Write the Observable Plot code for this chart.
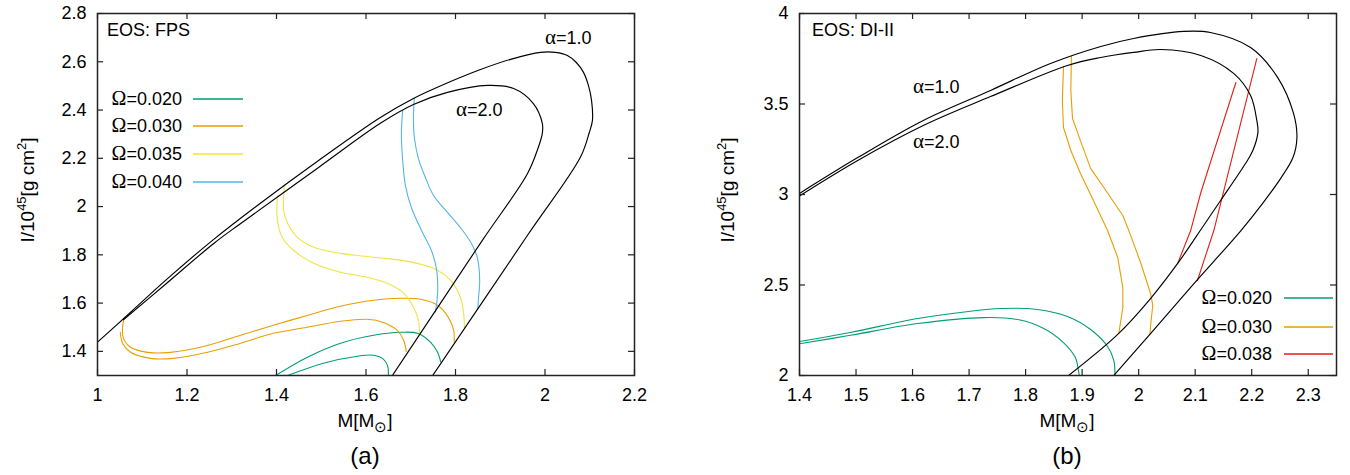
<!DOCTYPE html>
<html>
<head>
<meta charset="utf-8">
<script src="https://cdn.jsdelivr.net/npm/d3@7"></script>
<script src="https://cdn.jsdelivr.net/npm/@observablehq/plot@0.6"></script>
<style>
  body { margin: 0; background: #fff; }
  #wrap { position: relative; width: 1350px; height: 475px; overflow: hidden; }
  #wrap svg { position: absolute; top: 0; }
</style>
</head>
<body>
<div id="wrap"></div>
<script>
// ---------------- Panel (a): EOS FPS  -- [M (Msun), I (1e45 g cm^2)] ----------------
const fpsAlpha1 = [[1.000,1.438],[1.074,1.562],[1.152,1.694],[1.259,1.863],[1.364,2.014],[1.494,2.191],[1.632,2.369],[1.706,2.448],[1.789,2.518],[1.856,2.568],[1.923,2.610],[1.990,2.639],[2.023,2.639],[2.050,2.626],[2.070,2.597],[2.086,2.556],[2.097,2.502],[2.104,2.440],[2.106,2.357],[2.099,2.307],[2.079,2.204],[1.961,1.881],[1.749,1.300]];
const fpsAlpha2 = [[1.058,1.531],[1.152,1.678],[1.259,1.846],[1.320,1.930],[1.494,2.162],[1.632,2.345],[1.706,2.423],[1.782,2.473],[1.872,2.502],[1.930,2.489],[1.974,2.427],[1.994,2.345],[1.994,2.303],[1.985,2.245],[1.961,2.137],[1.860,1.860],[1.659,1.300]];
const fpsOm020a = [[1.398,1.300],[1.469,1.376],[1.543,1.434],[1.617,1.467],[1.677,1.479],[1.715,1.475],[1.744,1.438],[1.760,1.396],[1.767,1.356]];
const fpsOm020b = [[1.425,1.300],[1.505,1.351],[1.581,1.380],[1.617,1.384],[1.637,1.371],[1.648,1.342],[1.650,1.300]];
const fpsOm030a = [[1.060,1.541],[1.056,1.500],[1.058,1.454],[1.074,1.417],[1.112,1.396],[1.163,1.396],[1.230,1.417],[1.320,1.467],[1.393,1.508],[1.469,1.549],[1.543,1.587],[1.617,1.612],[1.677,1.620],[1.722,1.616],[1.760,1.591],[1.784,1.541],[1.796,1.487],[1.797,1.438]];
const fpsOm030b = [[1.051,1.479],[1.056,1.434],[1.074,1.396],[1.118,1.371],[1.170,1.371],[1.246,1.396],[1.320,1.434],[1.393,1.475],[1.469,1.500],[1.543,1.525],[1.603,1.533],[1.639,1.520],[1.670,1.487],[1.684,1.446],[1.690,1.400]];
const fpsOm035a = [[1.402,2.046],[1.402,1.943],[1.413,1.872],[1.438,1.819],[1.483,1.765],[1.543,1.728],[1.603,1.707],[1.648,1.682],[1.684,1.641],[1.706,1.583],[1.717,1.529],[1.720,1.471]];
const fpsOm035b = [[1.418,2.092],[1.416,1.984],[1.425,1.930],[1.447,1.872],[1.483,1.831],[1.543,1.806],[1.617,1.790],[1.693,1.773],[1.751,1.744],[1.789,1.694],[1.811,1.624],[1.818,1.558],[1.820,1.500]];
const fpsOm040a = [[1.682,2.398],[1.679,2.303],[1.682,2.191],[1.688,2.088],[1.702,1.993],[1.724,1.901],[1.746,1.819],[1.758,1.736],[1.760,1.641],[1.755,1.562]];
const fpsOm040b = [[1.708,2.450],[1.706,2.369],[1.708,2.287],[1.717,2.200],[1.731,2.129],[1.751,2.046],[1.782,1.976],[1.816,1.901],[1.838,1.839],[1.849,1.786],[1.854,1.694],[1.851,1.612],[1.850,1.578]];
const fpsXTicks = [1, 1.2, 1.4, 1.6, 1.8, 2, 2.2];
const fpsYTicks = [1.4, 1.6, 1.8, 2, 2.2, 2.4, 2.6, 2.8];

// ---------------- Panel (b): EOS DI-II ----------------
const diAlpha1 = [[1.400,3.006],[1.503,3.204],[1.619,3.409],[1.738,3.575],[1.844,3.724],[1.933,3.818],[1.991,3.862],[2.080,3.901],[2.127,3.895],[2.198,3.812],[2.246,3.646],[2.274,3.448],[2.280,3.315],[2.273,3.204],[2.251,3.088],[2.219,2.950],[2.181,2.801],[2.097,2.505],[2.021,2.232],[1.956,2.000]];
const diAlpha2 = [[1.400,2.992],[1.503,3.188],[1.619,3.381],[1.738,3.541],[1.874,3.713],[1.933,3.757],[1.991,3.785],[2.039,3.801],[2.110,3.768],[2.168,3.669],[2.198,3.547],[2.209,3.409],[2.211,3.343],[2.202,3.243],[2.189,3.171],[2.145,2.967],[2.115,2.829],[2.069,2.619],[2.021,2.425],[1.963,2.227],[1.876,2.000]];
const diOm020a = [[1.400,2.188],[1.490,2.238],[1.609,2.315],[1.699,2.354],[1.756,2.370],[1.821,2.365],[1.874,2.326],[1.915,2.254],[1.945,2.160],[1.956,2.083],[1.958,2.000]];
const diOm020b = [[1.400,2.175],[1.490,2.222],[1.609,2.287],[1.726,2.320],[1.786,2.309],[1.832,2.260],[1.867,2.182],[1.888,2.099],[1.894,2.017],[1.895,2.000]];
const diOm030a = [[1.867,3.705],[1.865,3.519],[1.867,3.370],[1.880,3.243],[1.897,3.116],[1.920,2.967],[1.945,2.801],[1.963,2.652],[1.972,2.486],[1.972,2.376],[1.965,2.234]];
const diOm030b = [[1.881,3.763],[1.880,3.575],[1.883,3.420],[1.897,3.298],[1.915,3.144],[1.942,3.022],[1.972,2.884],[1.986,2.773],[2.004,2.619],[2.021,2.453],[2.025,2.387],[2.022,2.304],[2.020,2.232]];
const diOm038a = [[2.069,2.619],[2.092,2.801],[2.110,3.011],[2.172,3.619]];
const diOm038b = [[2.104,2.525],[2.133,2.801],[2.209,3.751]];
const diXTicks = [1.4, 1.5, 1.6, 1.7, 1.8, 1.9, 2, 2.1, 2.2, 2.3];
const diYTicks = [2, 2.5, 3, 3.5, 4];

// ---------------- styling ----------------
const COL = {"0.020": "#009e73", "0.030": "#e69f00", "0.035": "#f0e442", "0.038": "#e51e10", "0.040": "#56b4e9"};
const SANS = "'Liberation Sans', Arial, Helvetica, sans-serif";
const SERIF = "'Liberation Serif', 'DejaVu Serif', serif";
const W = 675, H = 475, MT = 13, MB = 100;
const fmt = d => String(d);

function panel(cfg) {
  const plotW = W - cfg.marginLeft - cfg.marginRight;
  const plotH = H - MT - MB;
  const marks = [];
  for (const c of cfg.curves) {
    marks.push(Plot.line(c.pts, {x: d => d[0], y: d => d[1], stroke: c.color, strokeWidth: c.w, curve: c.curve || "catmull-rom", clip: true}));
  }
  const ts = {stroke: "#222", strokeWidth: 1.2};
  marks.push(Plot.tickY(cfg.yTicks, {y: d => d, insetRight: plotW - 6, ...ts}));
  marks.push(Plot.tickY(cfg.yTicks, {y: d => d, insetLeft: plotW - 6, ...ts}));
  marks.push(Plot.tickX(cfg.xTicks, {x: d => d, insetTop: plotH - 6, ...ts}));
  marks.push(Plot.tickX(cfg.xTicks, {x: d => d, insetBottom: plotH - 6, ...ts}));
  marks.push(Plot.axisX({ticks: cfg.xTicks, tickFormat: fmt, tickSize: 0, tickPadding: 13, label: null, fontSize: 18}));
  marks.push(Plot.axisY({ticks: cfg.yTicks, tickFormat: fmt, tickSize: 0, tickPadding: 11, label: null, fontSize: 18}));
  marks.push(Plot.frame({stroke: "#222", strokeWidth: 1.5}));
  const svg = Plot.plot({
    width: W, height: H,
    marginLeft: cfg.marginLeft, marginRight: cfg.marginRight, marginTop: MT, marginBottom: MB,
    x: {domain: cfg.xDomain},
    y: {domain: cfg.yDomain},
    style: {fontFamily: SANS, fontSize: "18px", color: "black", background: "white", overflow: "visible"},
    marks
  });
  svg.style.left = cfg.left + "px";
  return svg;
}

function txt(svg, x, y, anchor, size, parts, rotate) {
  const t = d3.select(svg).append("text")
    .attr("text-anchor", anchor).attr("font-size", size)
    .attr("font-family", SANS).attr("fill", "black");
  if (rotate) t.attr("transform", `translate(${x},${y}) rotate(-90)`);
  else t.attr("x", x).attr("y", y);
  for (const p of parts) {
    const s = t.append("tspan").text(p.t);
    if (p.f) s.attr("font-family", p.f);
    if (p.s) s.attr("font-size", p.s);
    if (p.dy) s.attr("dy", p.dy);
  }
}

function decorate(svg, d) {
  const sel = d3.select(svg);
  txt(svg, d.eos[0], d.eos[1], "start", 18, [{t: d.eosText}]);
  for (const a of d.alphas) {
    txt(svg, a.x, a.y, "start", 18, [{t: "α", f: SERIF, s: 21}, {t: "=" + a.v}]);
  }
  d.legend.forEach((L, i) => {
    const yc = d.legY[i];
    txt(svg, d.legTextRight, yc + 6, "end", 18, [{t: "Ω", f: SERIF, s: 20}, {t: "=" + L}]);
    sel.append("line").attr("x1", d.legLine[0]).attr("x2", d.legLine[1])
      .attr("y1", yc).attr("y2", yc).attr("stroke", COL[L]).attr("stroke-width", 1.3);
  });
  txt(svg, d.ylab[0], d.ylab[1], "middle", 19,
    [{t: "I/10"}, {t: "45", s: 13, dy: -8}, {t: "[g cm", dy: 8}, {t: "2", s: 13, dy: -8}, {t: "]", dy: 8}], true);
  txt(svg, d.xlab[0], d.xlab[1], "middle", 19,
    [{t: "M[M"}, {t: "⊙", s: 15, dy: 5}, {t: "]", dy: -5}]);
  txt(svg, d.xlab[0], 464, "middle", 24, [{t: d.tag}]);
}

const wrap = document.getElementById("wrap");

const A = panel({
  left: 0, marginLeft: 97, marginRight: 41,
  xDomain: [1, 2.2], yDomain: [1.3, 2.8], xTicks: fpsXTicks, yTicks: fpsYTicks,
  curves: [
    {pts: fpsOm020a, color: COL["0.020"], w: 1.1},
    {pts: fpsOm020b, color: COL["0.020"], w: 1.1},
    {pts: fpsOm030a, color: COL["0.030"], w: 1.1},
    {pts: fpsOm030b, color: COL["0.030"], w: 1.1},
    {pts: fpsOm035a, color: COL["0.035"], w: 1.1},
    {pts: fpsOm035b, color: COL["0.035"], w: 1.1},
    {pts: fpsOm040a, color: COL["0.040"], w: 1.1},
    {pts: fpsOm040b, color: COL["0.040"], w: 1.1},
    {pts: fpsAlpha1, color: "black", w: 1.15},
    {pts: fpsAlpha2, color: "black", w: 1.15}
  ]
});
wrap.appendChild(A);
decorate(A, {
  eos: [107, 36], eosText: "EOS: FPS",
  alphas: [{x: 545, y: 44, v: "1.0"}, {x: 456, y: 116, v: "2.0"}],
  legend: ["0.020", "0.030", "0.035", "0.040"], legY: [99, 126, 154, 182],
  legTextRight: 182, legLine: [193, 243],
  ylab: [34, 190], xlab: [365, 427], tag: "(a)"
});

const B = panel({
  left: 675, marginLeft: 124, marginRight: 14,
  xDomain: [1.4, 2.35], yDomain: [2, 4], xTicks: diXTicks, yTicks: diYTicks,
  curves: [
    {pts: diOm020a, color: COL["0.020"], w: 1.1},
    {pts: diOm020b, color: COL["0.020"], w: 1.1},
    {pts: diOm030a, color: COL["0.030"], w: 1.1, curve: "linear"},
    {pts: diOm030b, color: COL["0.030"], w: 1.1, curve: "linear"},
    {pts: diOm038a, color: COL["0.038"], w: 1.1, curve: "linear"},
    {pts: diOm038b, color: COL["0.038"], w: 1.1, curve: "linear"},
    {pts: diAlpha1, color: "black", w: 1.15},
    {pts: diAlpha2, color: "black", w: 1.15}
  ]
});
wrap.appendChild(B);
decorate(B, {
  eos: [137, 36], eosText: "EOS: DI-II",
  alphas: [{x: 238, y: 93, v: "1.0"}, {x: 238, y: 148, v: "2.0"}],
  legend: ["0.020", "0.030", "0.038"], legY: [298, 327, 354],
  legTextRight: 597, legLine: [609, 658],
  ylab: [59, 190], xlab: [392, 427], tag: "(b)"
});
</script>
</body>
</html>
